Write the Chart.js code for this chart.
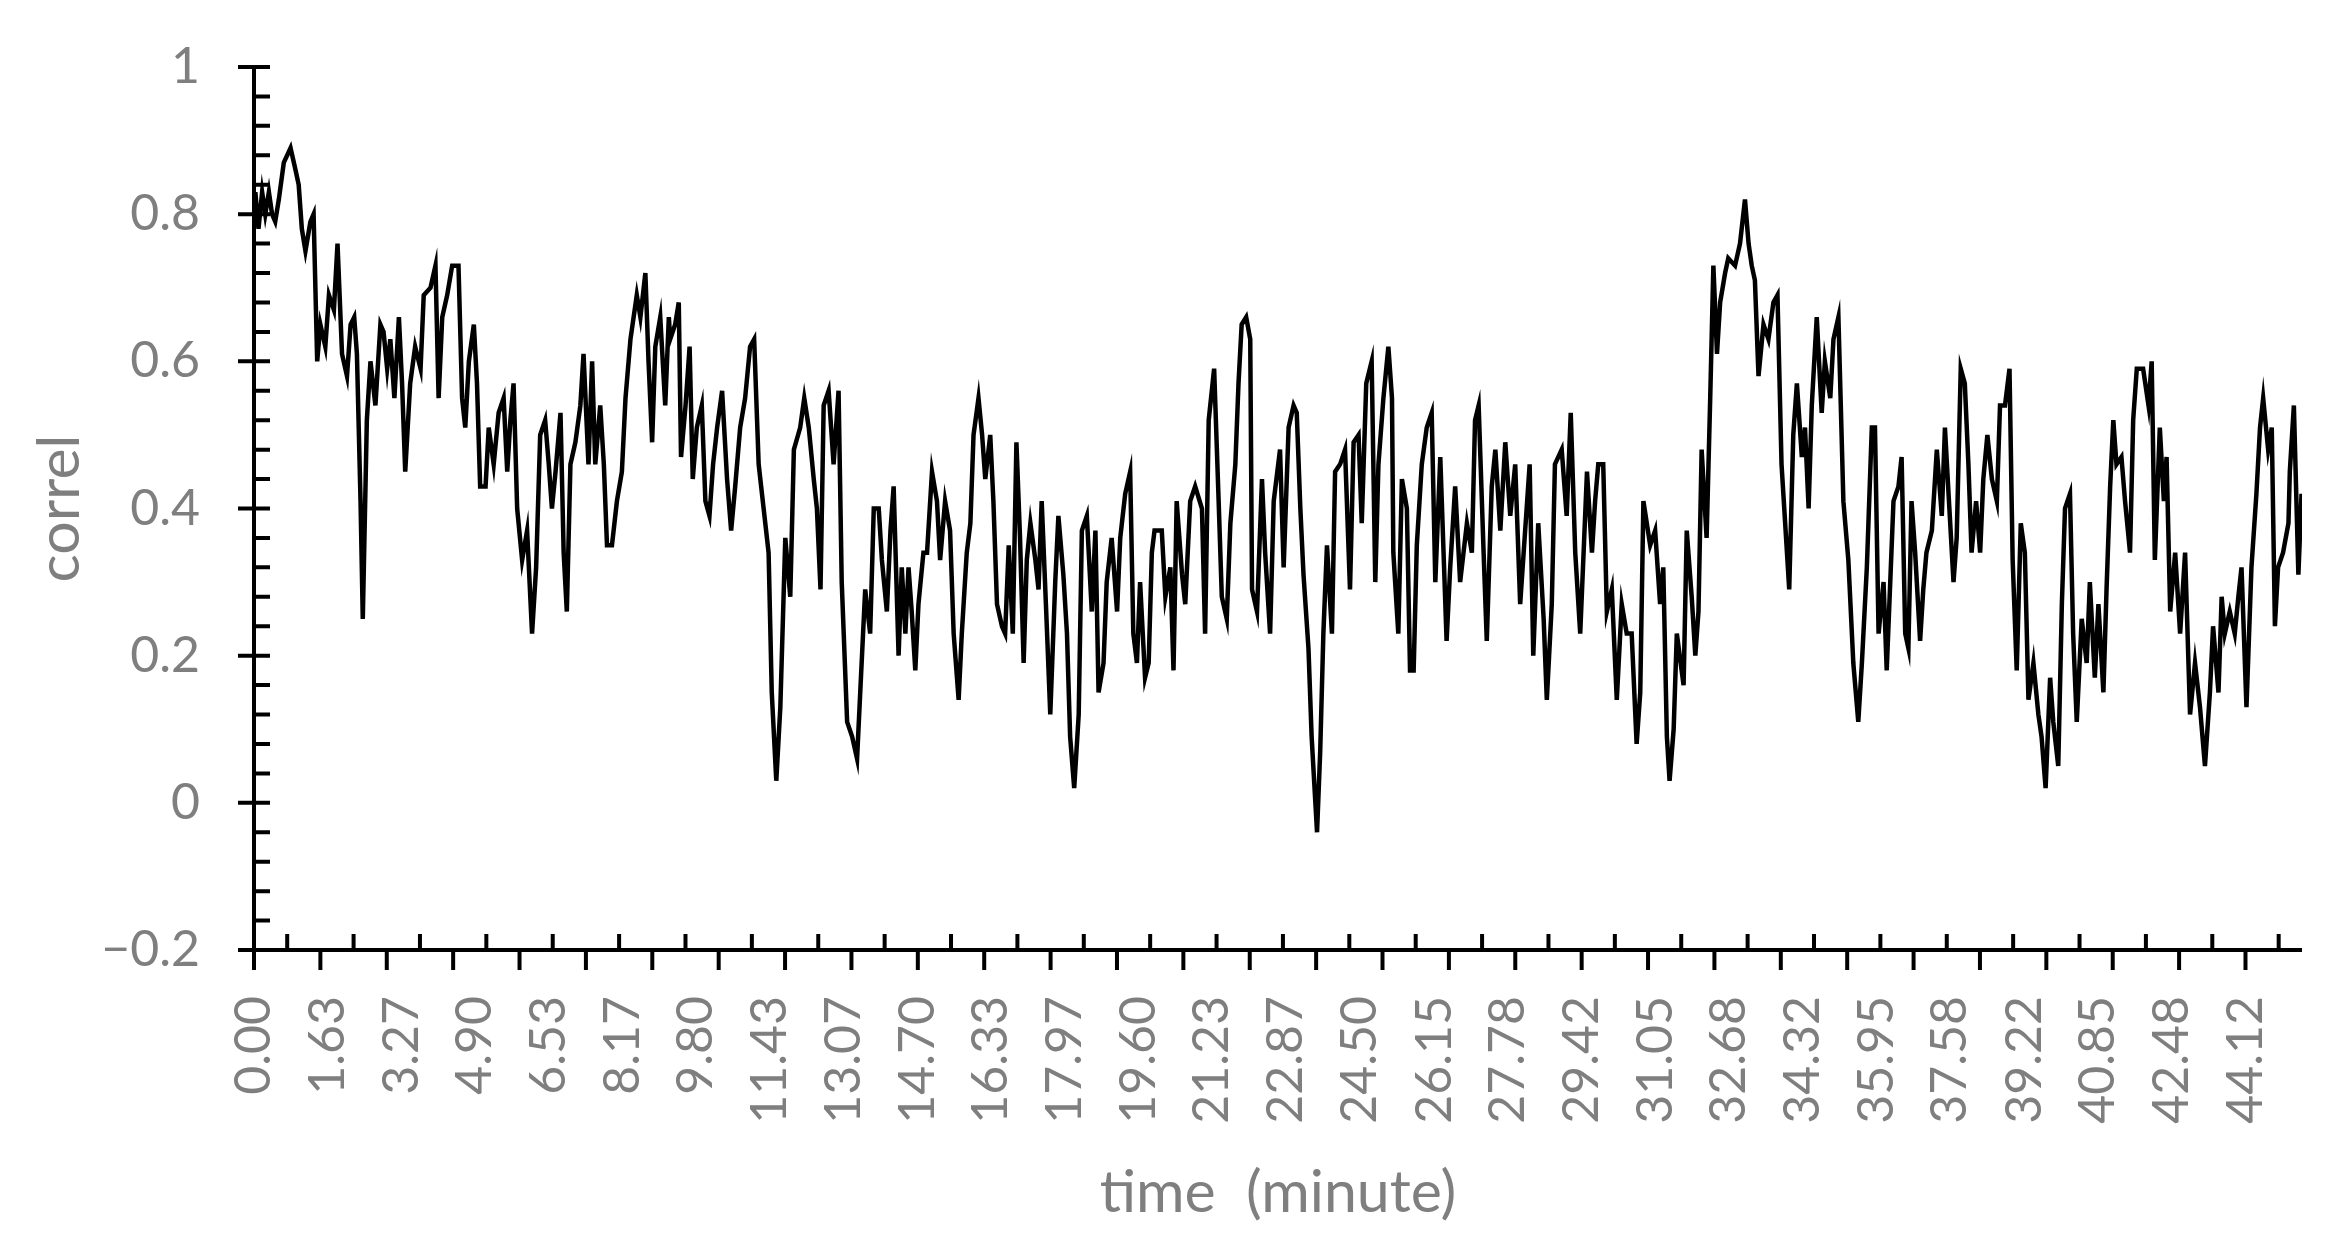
<!DOCTYPE html>
<html>
<head>
<meta charset="utf-8">
<script src="https://cdn.jsdelivr.net/npm/chart.js@4.4.1/dist/chart.umd.min.js"></script>
<style>
  html, body { margin: 0; padding: 0; background: #fff; }
  #chart { display: block; }
</style>
</head>
<body>
<canvas id="chart" width="2339" height="1240"></canvas>
<script>
// time in minutes
const times = [
  0.00,0.03,0.10,0.18,0.25,0.33,0.40,0.47,0.55,0.66,0.81,0.92,0.99,1.06,1.14,1.25,1.32,1.40,1.47,1.58,1.66,1.77,1.85,1.95,2.06,2.14,2.22,2.28,2.36,2.41,2.50,2.58,2.69,2.80,2.87,2.95,3.02,3.11,3.21,3.28,3.35,3.46,3.57,3.69,3.76,3.91,4.02,4.09,4.17,4.28,4.39,4.53,4.61,4.68,4.76,4.87,4.94,5.01,5.13,5.20,5.31,5.42,5.53,5.61,5.68,5.75,5.83,5.94,6.05,6.16,6.25,6.34,6.45,6.53,6.60,6.68,6.79,6.86,6.93,7.01,7.12,7.23,7.30,7.41,7.49,7.56,7.67,7.75,7.82,7.93,8.04,8.15,8.23,8.34,8.48,8.56,8.67,8.74,8.82,8.89,9.00,9.11,9.19,
  9.22,9.33,9.41,9.46,9.56,9.65,9.72,9.81,9.92,10.00,10.09,10.17,10.26,10.37,10.48,10.57,10.66,10.77,10.88,10.99,11.08,11.18,11.29,11.40,11.47,11.57,11.66,11.77,11.88,11.96,12.10,12.19,12.29,12.40,12.47,12.55,12.62,12.73,12.84,12.95,13.02,13.14,13.25,13.36,13.43,13.54,13.65,13.73,13.84,13.91,14.02,14.10,14.17,14.28,14.35,14.43,14.50,14.57,14.65,14.72,14.83,14.91,15.02,15.13,15.20,15.31,15.42,15.50,15.61,15.68,15.79,15.87,15.94,16.05,16.13,16.20,16.31,16.38,16.46,16.57,16.64,16.72,16.81,16.89,16.97,17.05,17.12,17.20,17.31,17.38,17.45,17.55,17.64,17.75,17.82,17.93,18.01,18.08,18.17,
  18.27,18.34,18.45,18.56,18.64,18.71,18.82,18.89,19.00,19.12,19.19,19.30,19.41,19.48,19.56,19.63,19.74,19.82,19.89,19.95,20.11,20.19,20.30,20.37,20.44,20.56,20.63,20.74,20.85,21.00,21.07,21.15,21.27,21.37,21.44,21.55,21.63,21.74,21.81,21.88,21.98,22.07,22.11,22.22,22.33,22.40,22.51,22.59,22.73,22.81,22.92,23.03,23.10,23.18,23.25,23.36,23.43,23.55,23.62,23.69,23.77,23.88,23.95,24.06,24.17,24.28,24.36,24.47,24.54,24.64,24.76,24.84,24.91,25.02,25.13,25.21,25.24,25.35,25.43,25.54,25.61,25.69,25.76,25.87,25.98,26.09,26.17,26.28,26.42,26.50,26.61,26.72,26.87,26.98,27.05,27.13,
  27.24,27.31,27.42,27.50,27.61,27.72,27.83,27.94,28.05,28.16,28.26,28.34,28.45,28.57,28.64,28.75,28.82,28.97,29.08,29.17,29.27,29.38,29.53,29.64,29.71,29.78,29.89,29.97,30.08,30.19,30.30,30.41,30.52,30.63,30.71,30.78,30.93,31.04,31.15,31.22,31.30,31.36,31.45,31.52,31.67,31.74,31.85,31.93,32.00,32.07,32.18,32.26,32.33,32.41,32.48,32.59,32.66,32.81,32.92,33.03,33.11,33.18,33.25,33.33,33.44,33.55,33.66,33.75,33.84,33.92,34.01,34.10,34.18,34.29,34.36,34.44,34.51,34.62,34.73,34.80,34.92,34.99,35.10,35.21,35.32,35.43,35.54,35.62,35.73,35.84,35.91,35.99,36.10,36.17,
  36.32,36.43,36.50,36.58,36.65,36.72,36.80,36.91,36.98,37.05,37.17,37.28,37.39,37.46,37.54,37.65,37.72,37.81,37.90,37.98,38.05,38.15,38.24,38.31,38.40,38.50,38.61,38.68,38.79,38.89,38.96,39.05,39.14,39.23,39.31,39.42,39.53,39.60,39.69,39.79,39.86,39.97,40.05,40.12,40.23,40.30,40.38,40.49,40.60,40.67,40.78,40.86,40.97,41.04,41.12,41.19,41.26,41.37,41.45,41.56,41.63,41.71,41.85,41.97,42.04,42.11,42.22,42.31,42.37,42.45,42.56,42.67,42.78,42.89,43.00,43.11,43.22,43.33,43.40,43.52,43.59,43.66,43.77,43.88,43.96,44.03,44.14,44.25,44.36,44.44,44.51,44.62,44.70,44.77,44.84,44.95,45.07,45.10,45.19,45.29,45.36
];

// correl values, same order as times
const correl = [
  .80,.83,.78,.83,.80,.83,.80,.79,.82,.87,.89,.86,.84,.78,.75,.79,.80,.60,.65,.62,.69,.67,.76,.61,.58,.65,.66,.61,.41,.25,.52,.60,.54,.65,.64,.59,.63,.55,.66,.57,.45,.57,.62,.59,.69,.70,.73,.55,.66,.69,.73,.73,.55,.51,.60,.65,.57,.43,.43,.51,.46,.53,.55,.45,.52,.57,.40,.33,.37,.23,.32,.50,.52,.46,.40,.45,.53,.34,.26,.46,.49,.54,.61,.46,.60,.46,.54,.46,.35,.35,.41,.45,.55,.63,.69,.66,.72,.60,.49,.62,.66,.54,.66,
  .63,.65,.68,.47,.54,.62,.44,.51,.54,.41,.39,.46,.51,.56,.44,.37,.43,.51,.55,.62,.63,.46,.40,.34,.15,.03,.13,.36,.28,.48,.51,.55,.51,.44,.40,.29,.54,.56,.46,.56,.30,.11,.09,.06,.15,.29,.23,.40,.40,.33,.26,.37,.43,.20,.32,.23,.32,.26,.18,.27,.34,.34,.45,.41,.33,.41,.37,.23,.14,.23,.34,.38,.50,.55,.50,.44,.50,.41,.27,.24,.23,.35,.23,.49,.36,.19,.33,.38,.33,.29,.41,.26,.12,.30,.39,.31,.23,.09,.02,
  .12,.37,.39,.26,.37,.15,.19,.30,.36,.26,.36,.42,.45,.23,.19,.30,.17,.19,.34,.37,.37,.28,.32,.18,.41,.31,.27,.41,.43,.40,.23,.52,.59,.41,.28,.25,.38,.46,.57,.65,.66,.63,.29,.26,.44,.34,.23,.41,.48,.32,.51,.54,.53,.40,.31,.21,.09,-.04,.07,.23,.35,.23,.45,.46,.48,.29,.49,.50,.38,.57,.60,.30,.46,.55,.62,.55,.34,.23,.44,.40,.18,.18,.35,.46,.51,.53,.30,.47,.22,.32,.43,.30,.38,.34,.52,.54,
  .34,.22,.43,.48,.37,.49,.39,.46,.27,.37,.46,.20,.38,.25,.14,.27,.46,.48,.39,.53,.34,.23,.45,.34,.41,.46,.46,.26,.29,.14,.27,.23,.23,.08,.15,.41,.35,.37,.27,.32,.09,.03,.10,.23,.16,.37,.28,.20,.26,.48,.36,.55,.73,.61,.68,.72,.74,.73,.76,.82,.76,.73,.71,.58,.65,.63,.68,.69,.46,.38,.29,.50,.57,.47,.51,.40,.54,.66,.53,.60,.55,.63,.66,.41,.33,.19,.11,.19,.32,.51,.51,.23,.30,.18,
  .41,.43,.47,.23,.21,.41,.34,.22,.29,.34,.37,.48,.39,.51,.42,.30,.36,.59,.57,.46,.34,.41,.34,.44,.50,.44,.41,.54,.54,.59,.33,.18,.38,.34,.14,.19,.12,.09,.02,.17,.11,.05,.27,.40,.42,.23,.11,.25,.19,.30,.17,.27,.15,.29,.43,.52,.46,.47,.41,.34,.52,.59,.59,.54,.60,.33,.51,.41,.47,.26,.34,.23,.34,.12,.19,.13,.05,.15,.24,.15,.28,.23,.26,.23,.28,.32,.13,.32,.42,.51,.55,.48,.51,.24,.32,.34,.38,.45,.54,.31,.42
];

const tickLabels = ['0.00','1.63','3.27','4.90','6.53','8.17','9.80','11.43','13.07','14.70','16.33','17.97','19.60',
  '21.23','22.87','24.50','26.15','27.78','29.42','31.05','32.68','34.32','35.95','37.58','39.22','40.85','42.48','44.12'];

const xMax = 45.37;
const tickMarkStep = 1.4706;   // excel tick-mark interval (0.9 x label interval)
const labelGray = '#7f7f7f';
const font = 'Lato';

if (times.length !== correl.length) console.error('length mismatch', times.length, correl.length);

// axis lines and tick marks drawn excel style
const excelAxes = {
    id: 'excelAxes',
    afterDatasetsDraw(chart) {
        const { ctx, scales: { x, y } } = chart;
        const ax = x.getPixelForValue(0);
        const ay = y.getPixelForValue(-0.2);
        const top = y.getPixelForValue(1);
        ctx.save();
        ctx.strokeStyle = '#000';
        ctx.lineWidth = 4;
        ctx.lineCap = 'butt';
        ctx.beginPath();
        ctx.moveTo(ax, top - 2);
        ctx.lineTo(ax, ay);
        ctx.moveTo(ax - 16, ay);
        ctx.lineTo(x.getPixelForValue(xMax), ay);
        // y ticks
        for (let i = 0; i <= 30; i++) {
            const v = -0.2 + i * 0.04;
            const py = y.getPixelForValue(v);
            if (i % 5 === 0) {
                ctx.moveTo(ax - 16, py);
                ctx.lineTo(ax + 16, py);
            } else {
                ctx.moveTo(ax, py);
                ctx.lineTo(ax + 16, py);
            }
        }
        // x ticks
        for (let k = 0; k * tickMarkStep <= xMax; k++) {
            const px = x.getPixelForValue(k * tickMarkStep);
            ctx.moveTo(px, ay);
            ctx.lineTo(px, ay + 20);
            const mid = (k + 0.5) * tickMarkStep;
            if (mid <= xMax) {
                const pm = x.getPixelForValue(mid);
                ctx.moveTo(pm, ay);
                ctx.lineTo(pm, ay - 16);
            }
        }
        ctx.stroke();
        ctx.restore();
    }
};

new Chart(document.getElementById('chart'), {
    type: 'line',
    data: {
        datasets: [{
            label: 'correl',
            data: times.map((t, i) => ({ x: t, y: correl[i] })),
            borderColor: '#000',
            borderWidth: 4.5,
            pointRadius: 0,
            tension: 0,
            fill: false
        }]
    },
    options: {
        responsive: false,
        animation: false,
        devicePixelRatio: 1,
        layout: { padding: { top: 67, right: 37, bottom: 0, left: 0 } },
        plugins: { legend: { display: false }, tooltip: { enabled: false } },
        scales: {
            x: {
                type: 'linear',
                min: 0,
                max: xMax,
                afterBuildTicks: (s) => { s.ticks = tickLabels.map(l => ({ value: parseFloat(l) })); },
                afterFit: (s) => { s.height = 290; s.paddingLeft = 0; s.paddingRight = 0; },
                grid: { display: false, drawTicks: false },
                border: { display: false },
                ticks: {
                    autoSkip: false,
                    minRotation: 90,
                    maxRotation: 90,
                    padding: 46,
                    color: labelGray,
                    font: { family: font, size: 50 },
                    callback: (v, i) => tickLabels[i]
                },
                title: {
                    display: true,
                    text: 'time  (minute)',
                    color: labelGray,
                    font: { family: font, size: 59 },
                    padding: { top: 0, bottom: 12 }
                }
            },
            y: {
                min: -0.2,
                max: 1,
                afterFit: (s) => { s.width = 254; s.paddingTop = 0; s.paddingBottom = 0; },
                grid: { display: false, drawTicks: false },
                border: { display: false },
                ticks: {
                    stepSize: 0.2,
                    padding: 54,
                    color: labelGray,
                    font: { family: font, size: 50 },
                    callback: (v) => {
                        const r = Math.round(v * 10) / 10;
                        return r < 0 ? '\u2212' + Math.abs(r) : String(r);
                    }
                },
                title: {
                    display: true,
                    text: 'correl',
                    color: labelGray,
                    font: { family: font, size: 59 },
                    padding: { top: 25, bottom: 0 }
                }
            }
        }
    },
    plugins: [excelAxes]
});
</script>
</body>
</html>
